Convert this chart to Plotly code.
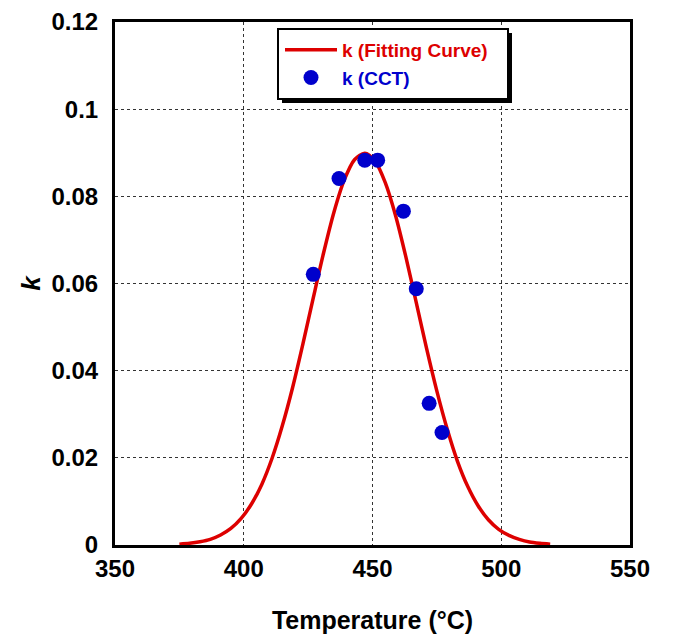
import plotly.graph_objects as go

# Fitted curve
fit_T = [375, 379, 383, 387, 391, 395, 399, 403, 407, 411, 415, 419, 423, 427, 431, 435, 439, 443,
         447, 451, 455, 459, 463, 467, 471, 475, 479, 483, 487, 491, 495, 499, 503, 507, 511, 515, 519]
fit_k = [0.0002, 0.0004, 0.00075, 0.0013, 0.0023, 0.0038, 0.0061, 0.0094, 0.0139, 0.0199, 0.0274,
         0.0362, 0.0462, 0.0567, 0.0670, 0.0763, 0.0837, 0.0884, 0.0899, 0.0881, 0.0831, 0.0755,
         0.0660, 0.0556, 0.0451, 0.0353, 0.0266, 0.0192, 0.0134, 0.0090, 0.0058, 0.0036, 0.0022,
         0.0013, 0.0007, 0.0004, 0.0002]

# Measured points (CCT)
cct_T = [427, 437, 447, 452, 462, 467, 472, 477]
cct_k = [0.0621, 0.0841, 0.0883, 0.0883, 0.0766, 0.0588, 0.0325, 0.0258]

x_ticks = [350, 400, 450, 500, 550]
y_ticks = [0, 0.02, 0.04, 0.06, 0.08, 0.10, 0.12]
y_ticktext = ["0", "0.02", "0.04", "0.06", "0.08", "0.1", "0.12"]

RED = "#dd0000"
BLUE = "#0000cc"
FONT = "Liberation Sans, Arial, sans-serif"

fig = go.Figure()
fig.add_trace(go.Scatter(
    x=fit_T, y=fit_k, mode="lines", line=dict(color=RED, width=3.5, shape="spline", smoothing=0.8),
    name=f"<span style='color:{RED}'><b>k (Fitting Curve)</b></span>"))
fig.add_trace(go.Scatter(
    x=cct_T, y=cct_k, mode="markers", marker=dict(color=BLUE, size=15),
    name=f"<span style='color:{BLUE}'><b>k (CCT)</b></span>"))

L, R, T, B = 115, 48, 22, 91
W, H = 678, 636
pw, ph = W - L - R, H - T - B

def px(xp):
    return (xp - L) / pw

def py(yp):
    return (H - B - yp) / ph

# legend box shadow + box
fig.add_shape(type="rect", xref="paper", yref="paper", layer="above",
              x0=px(282), x1=px(512), y0=py(103), y1=py(33),
              fillcolor="black", line=dict(width=0))
fig.add_shape(type="rect", xref="paper", yref="paper", layer="above",
              x0=px(278), x1=px(508), y0=py(99), y1=py(29),
              fillcolor="white", line=dict(color="black", width=2))

fig.update_layout(
    width=W, height=H,
    margin=dict(l=L, r=R, t=T, b=B, autoexpand=False),
    paper_bgcolor="white", plot_bgcolor="white",
    font=dict(family=FONT, color="black"),
    showlegend=True,
    legend=dict(x=px(280), y=py(31), xanchor="left", yanchor="top",
                bgcolor="rgba(0,0,0,0)", borderwidth=0,
                font=dict(family=FONT, size=19), tracegroupgap=0,
                itemwidth=52),
    xaxis=dict(range=[350, 550], tickvals=x_ticks, ticktext=[str(v) for v in x_ticks],
               showline=True, linecolor="black", linewidth=3, mirror=True,
               showgrid=True, gridcolor="#333333", gridwidth=1, griddash="dot",
               zeroline=False, ticks="", ticklabelstandoff=0, automargin=False,
               tickfont=dict(family=FONT, size=24, weight="bold"),
               title=dict(text="<b>Temperature (°C)</b>", font=dict(family=FONT, size=25),
                          standoff=31)),
    yaxis=dict(range=[0, 0.12], tickvals=y_ticks, ticktext=y_ticktext,
               showline=True, linecolor="black", linewidth=3, mirror=True,
               showgrid=True, gridcolor="#333333", gridwidth=1, griddash="dot",
               zeroline=False, ticks="", ticklabelstandoff=9, automargin=False,
               tickfont=dict(family=FONT, size=24, weight="bold"),
               title=dict(text="<b><i>k</i></b>", font=dict(family=FONT, size=26),
                          standoff=4)),
)

fig.write_html("out.html")
